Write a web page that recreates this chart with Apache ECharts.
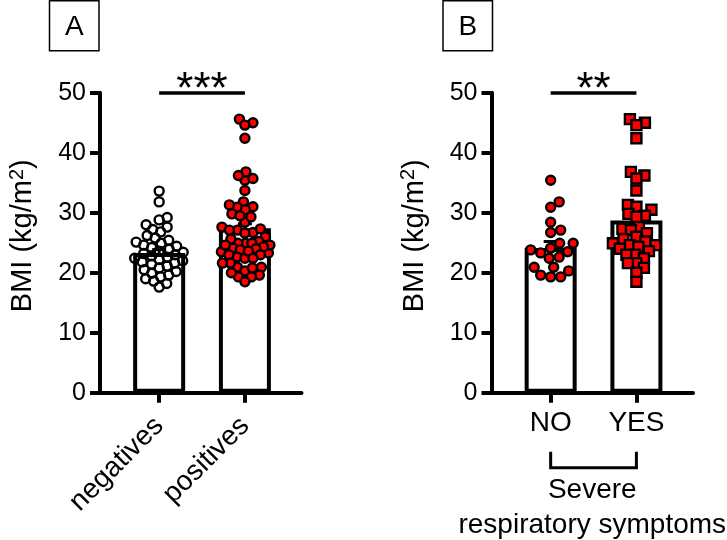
<!DOCTYPE html>
<html><head><meta charset="utf-8">
<script src="https://cdn.jsdelivr.net/npm/echarts@6/dist/echarts.min.js"></script>
<style>html,body{margin:0;padding:0;background:#fff}#c{width:727px;height:540px}</style>
</head><body><div id="c"></div>
<script>
// ---------------- data ----------------
const panelACategories = ['negatives', 'positives'];
const panelBCategories = ['NO', 'YES'];
const yTickMin = 0, yTickMax = 50, yTickStep = 10;

const negativesBMI = [33.6, 31.8, 29.2, 28.8, 28.0, 27.6, 27.2, 26.8, 26.2, 25.8,
  25.4, 25.1, 24.9, 24.6, 24.4, 24.2, 23.9, 23.6, 23.4, 23.2,
  23.0, 22.8, 22.6, 22.4, 22.2, 22.0, 21.8, 21.6, 21.4, 21.1,
  20.8, 20.5, 20.2, 19.9, 19.6, 19.3, 19.0, 18.6, 18.2, 17.6];
const noBMI = [35.4, 31.8, 30.9, 28.4, 27.1, 26.7, 24.9, 24.9, 24.1, 23.8,
  23.5, 23.3, 22.6, 22.4, 20.9, 20.9, 20.3, 19.6, 19.3, 19.3];
const yesBMI = [45.6, 45.0, 44.6, 42.4, 36.8, 36.2, 35.7, 33.7, 31.3, 31.0,
  30.5, 29.8, 29.5, 29.3, 27.6, 27.3, 27.1, 26.6, 26.0, 25.6,
  25.2, 24.9, 24.6, 24.6, 24.3, 24.0, 23.6, 23.0, 23.0, 22.4,
  21.6, 21.6, 20.8, 20.0, 18.5];
const positivesBMI = noBMI.concat(yesBMI);

const panelAMeans = [23.3, 27.4];
const panelASEM = [0.55, 0.75];
const panelBMeans = [24.1, 28.7];
const panelBSEM = [1.1, 1.1];
const panelASig = '***';
const panelBSig = '**';

// ---------------- layout ----------------
const FONT = 'Liberation Sans, Arial, Helvetica, sans-serif';
const RED = '#ff0000';
const GRID_TOP = 92.7, GRID_H = 300, GRID_W = 201.5;
const gridA = {left: 100, top: GRID_TOP, width: GRID_W, height: GRID_H, outerBoundsMode: 'none', containLabel: false};
const gridB = {left: 491.5, top: GRID_TOP, width: GRID_W, height: GRID_H, outerBoundsMode: 'none', containLabel: false};
const X_MIN = 0.31, X_MAX = 2.66;
const xPos = [1, 2];
const pxPerX = GRID_W / (X_MAX - X_MIN);
const pxPerY = GRID_H / (yTickMax - yTickMin);

// deterministic beeswarm: spreads points horizontally around a category centre
function swarm(values, center, D, maxOff) {
  const placed = [];
  const out = new Array(values.length);
  const order = values.map((v, i) => i).sort((a, b) => values[a] - values[b]);
  order.forEach(i => {
    const py = values[i] * pxPerY;
    let best = 0, bestScore = -1;
    for (let k = 0; k <= maxOff * 4; k++) {
      const off = (k % 2 === 1 ? 1 : -1) * Math.ceil(k / 2) * 0.5;
      let md = Infinity;
      placed.forEach(p => { md = Math.min(md, Math.hypot(off - p[0], py - p[1])); });
      if (md >= D) { best = off; break; }
      if (md > bestScore) { bestScore = md; best = off; }
    }
    placed.push([best, py]);
    out[i] = [center + best / pxPerX, values[i]];
  });
  return out;
}

function yAxis(gi) {
  return {
    type: 'value', gridIndex: gi, min: yTickMin, max: yTickMax, interval: yTickStep,
    splitLine: {show: false},
    axisLine: {show: true, lineStyle: {color: '#000', width: 4}},
    axisTick: {show: true, length: 10, lineStyle: {color: '#000', width: 4}},
    axisLabel: {color: '#000', fontSize: 25, fontFamily: FONT, margin: 14},
    name: '{a|BMI (kg/m}{s|2}{a|)}',
    nameLocation: 'middle', nameRotate: 90, nameGap: 60,
    nameTextStyle: {
      padding: [0, 0, 0, 14],
      rich: {
        a: {fontSize: 29, fontFamily: FONT, color: '#000', lineHeight: 34},
        s: {fontSize: 20, fontFamily: FONT, color: '#000', lineHeight: 34, padding: [0, 0, 12, 0]}
      }
    }
  };
}

function xAxis(gi, cats, rotate, extra) {
  return Object.assign({
    type: 'value', gridIndex: gi, min: X_MIN, max: X_MAX,
    splitLine: {show: false},
    axisLine: {show: true, onZero: true, lineStyle: {color: '#000', width: 4}},
    axisTick: {show: true, customValues: xPos, length: 10, lineStyle: {color: '#000', width: 4}},
    axisLabel: {
      customValues: xPos, rotate: rotate, color: '#000', fontSize: 28, fontFamily: FONT,
      margin: rotate ? 29 : 17,
      formatter: v => cats[Math.round(v) - 1]
    }
  }, extra || {});
}

function barSeries(gi, means, sig) {
  return {
    type: 'bar', xAxisIndex: gi, yAxisIndex: gi, barWidth: 52, z: 2,
    data: means.map((m, i) => [xPos[i], m]),
    itemStyle: {color: '#fff', borderColor: '#000', borderWidth: 4},
    silent: true,
    markLine: {
      silent: true, symbol: 'none', animation: false,
      lineStyle: {color: '#000', width: 3.5, type: 'solid'},
      label: {show: true, position: 'insideMiddleTop', formatter: sig, color: '#000',
        fontSize: 44, fontFamily: FONT, distance: -20},
      data: [[{coord: [xPos[0], yTickMax]}, {coord: [xPos[1], yTickMax]}]]
    }
  };
}

function errSeries(gi, means, sems) {
  return {
    type: 'custom', xAxisIndex: gi, yAxisIndex: gi, z: 3, silent: true,
    data: means.map((m, i) => [xPos[i], m, sems[i]]),
    renderItem: (params, api) => {
      const x = api.value(0), m = api.value(1), s = api.value(2);
      const p0 = api.coord([x, m]), p1 = api.coord([x, m + s]);
      return {type: 'group', children: [
        {type: 'line', shape: {x1: p0[0], y1: p0[1], x2: p1[0], y2: p1[1]}, style: {stroke: '#000', lineWidth: 3}},
        {type: 'line', shape: {x1: p1[0] - 7, y1: p1[1], x2: p1[0] + 7, y2: p1[1]}, style: {stroke: '#000', lineWidth: 3}}
      ]};
    }
  };
}

function dotSeries(gi, values, center, symbol, size, fill, D) {
  return {
    type: 'scatter', xAxisIndex: gi, yAxisIndex: gi, z: 4, silent: true,
    symbol: symbol, symbolSize: size,
    data: swarm(values, center, D, 25),
    itemStyle: {color: fill, borderColor: '#000', borderWidth: 2.4, opacity: 1}
  };
}

const chart = echarts.init(document.getElementById('c'), null, {renderer: 'canvas'});
const option = {
  animation: false,
  backgroundColor: '#fff',
  grid: [gridA, gridB],
  xAxis: [
    xAxis(0, panelACategories, 45),
    xAxis(1, panelBCategories, 0, {
      name: 'Severe\nrespiratory symptoms', nameLocation: 'middle', nameGap: 80,
      nameTextStyle: {color: '#000', fontSize: 28, fontFamily: FONT, lineHeight: 35}
    })
  ],
  yAxis: [yAxis(0), yAxis(1)],
  series: [
    barSeries(0, panelAMeans, panelASig),
    errSeries(0, panelAMeans, panelASEM),
    dotSeries(0, negativesBMI, xPos[0], 'circle', 9, 'rgba(255,255,255,0)', 8),
    dotSeries(0, positivesBMI, xPos[1], 'circle', 9, RED, 8),
    barSeries(1, panelBMeans, panelBSig),
    errSeries(1, panelBMeans, panelBSEM),
    dotSeries(1, noBMI, xPos[0], 'circle', 9, RED, 10),
    dotSeries(1, yesBMI, xPos[1], 'rect', 10, RED, 8.5)
  ]
};
chart.setOption(option);

// panel letters and bracket under NO / YES
const pNo = chart.convertToPixel({gridIndex: 1}, [xPos[0], 0]);
const pYes = chart.convertToPixel({gridIndex: 1}, [xPos[1], 0]);
chart.setOption({
  graphic: [
    {type: 'rect', shape: {x: 49.5, y: 0.75, width: 49.5, height: 50}, style: {fill: '#fff', stroke: '#000', lineWidth: 1.5}},
    {type: 'text', x: 74.25, y: 27, style: {text: 'A', fontSize: 28, fontFamily: FONT, fill: '#000', align: 'center', verticalAlign: 'middle'}},
    {type: 'rect', shape: {x: 443, y: 0.75, width: 49.5, height: 50}, style: {fill: '#fff', stroke: '#000', lineWidth: 1.5}},
    {type: 'text', x: 467.75, y: 27, style: {text: 'B', fontSize: 28, fontFamily: FONT, fill: '#000', align: 'center', verticalAlign: 'middle'}},
    {type: 'polyline', shape: {points: [[pNo[0], pNo[1] + 59], [pNo[0], pNo[1] + 75], [pYes[0], pYes[1] + 75], [pYes[0], pYes[1] + 59]]},
      style: {stroke: '#000', lineWidth: 3, fill: null}}
  ]
});
</script>
</body></html>
